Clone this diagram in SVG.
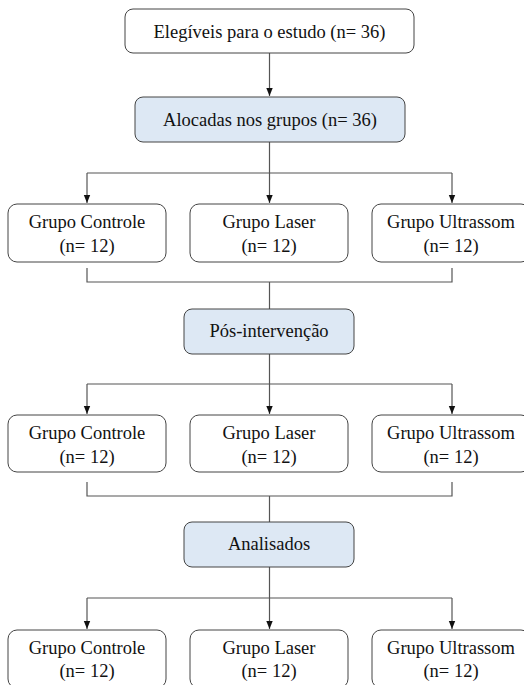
<svg xmlns="http://www.w3.org/2000/svg" width="524" height="685" viewBox="0 0 524 685">
<defs>
<marker id="ah" viewBox="0 0 8 8" refX="8" refY="4" markerWidth="8" markerHeight="8" markerUnits="userSpaceOnUse" orient="auto">
<path d="M0,0.8 L8,4 L0,7.2 Z" fill="#111"/>
</marker>
<style>
.box{fill:#fff;stroke:#444;stroke-width:1}
.blue{fill:#dde8f4;stroke:#444;stroke-width:1}
.lbl{font-family:'Liberation Serif',serif;font-size:18.5px;fill:#111;text-anchor:middle}
.c{fill:none;stroke:#555;stroke-width:1.2}
</style>
</defs>
<rect width="524" height="685" fill="#fff"/>
<g id="connectors">
<path class="c" d="M269.5,53 V96" marker-end="url(#ah)"/>
<path class="c" d="M269.5,142 V173 M87,173 H452"/>
<path class="c" d="M87,173 V203" marker-end="url(#ah)"/>
<path class="c" d="M269.5,173 V203" marker-end="url(#ah)"/>
<path class="c" d="M452,173 V203" marker-end="url(#ah)"/>
<path class="c" d="M87,268 V282 H452 V268 M269.5,282 V309"/>
<path class="c" d="M269.5,354 V384 M87,384 H452"/>
<path class="c" d="M87,384 V414" marker-end="url(#ah)"/>
<path class="c" d="M269.5,384 V414" marker-end="url(#ah)"/>
<path class="c" d="M452,384 V414" marker-end="url(#ah)"/>
<path class="c" d="M87,482 V496 H452 V482 M269.5,496 V522"/>
<path class="c" d="M269.5,567 V598 M87,598 H452"/>
<path class="c" d="M87,598 V629" marker-end="url(#ah)"/>
<path class="c" d="M269.5,598 V629" marker-end="url(#ah)"/>
<path class="c" d="M452,598 V629" marker-end="url(#ah)"/>
</g>
<g id="elegiveis"><rect class="box" x="125" y="9" width="289" height="44" rx="8"/><text class="lbl" x="269.5" y="37.5">Elegíveis para o estudo (n= 36)</text></g>
<g id="alocadas"><rect class="blue" x="135" y="97" width="270" height="45" rx="8"/><text class="lbl" x="270" y="126">Alocadas nos grupos (n= 36)</text></g>
<g id="controle1"><rect class="box" x="8" y="204" width="158" height="58" rx="9"/><text class="lbl" x="87" y="228">Grupo Controle</text><text class="lbl" x="87" y="252">(n= 12)</text></g>
<g id="laser1"><rect class="box" x="190" y="204" width="158" height="58" rx="9"/><text class="lbl" x="269" y="228">Grupo Laser</text><text class="lbl" x="269" y="252">(n= 12)</text></g>
<g id="ultrassom1"><rect class="box" x="372" y="204" width="158" height="58" rx="9"/><text class="lbl" x="451" y="228">Grupo Ultrassom</text><text class="lbl" x="451" y="252">(n= 12)</text></g>
<g id="posintervencao"><rect class="blue" x="184" y="309" width="170" height="45" rx="8"/><text class="lbl" x="269" y="337">Pós-intervenção</text></g>
<g id="controle2"><rect class="box" x="8" y="415" width="158" height="57" rx="9"/><text class="lbl" x="87" y="439">Grupo Controle</text><text class="lbl" x="87" y="463">(n= 12)</text></g>
<g id="laser2"><rect class="box" x="190" y="415" width="158" height="57" rx="9"/><text class="lbl" x="269" y="439">Grupo Laser</text><text class="lbl" x="269" y="463">(n= 12)</text></g>
<g id="ultrassom2"><rect class="box" x="372" y="415" width="158" height="57" rx="9"/><text class="lbl" x="451" y="439">Grupo Ultrassom</text><text class="lbl" x="451" y="463">(n= 12)</text></g>
<g id="analisados"><rect class="blue" x="184" y="522" width="170" height="45" rx="8"/><text class="lbl" x="269" y="550">Analisados</text></g>
<g id="controle3"><rect class="box" x="8" y="630" width="158" height="58" rx="9"/><text class="lbl" x="87" y="654">Grupo Controle</text><text class="lbl" x="87" y="677">(n= 12)</text></g>
<g id="laser3"><rect class="box" x="190" y="630" width="158" height="58" rx="9"/><text class="lbl" x="269" y="654">Grupo Laser</text><text class="lbl" x="269" y="677">(n= 12)</text></g>
<g id="ultrassom3"><rect class="box" x="372" y="630" width="158" height="58" rx="9"/><text class="lbl" x="451" y="654">Grupo Ultrassom</text><text class="lbl" x="451" y="677">(n= 12)</text></g>
</svg>
